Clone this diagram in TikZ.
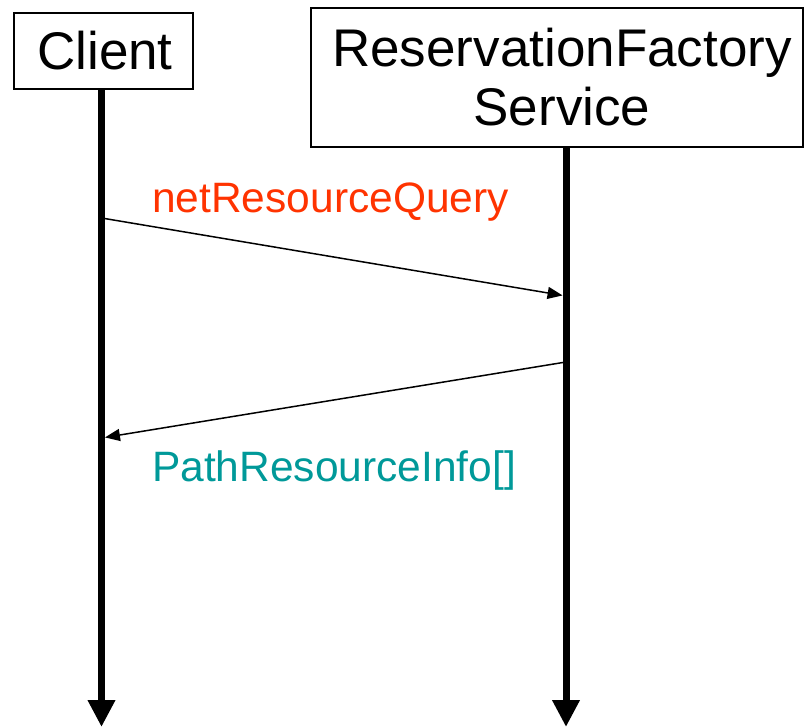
\documentclass[tikz,border=0pt]{standalone}
\usepackage{fontspec}
\setmainfont{Liberation Sans}
\usetikzlibrary{arrows.meta}
\definecolor{callred}{RGB}{255,51,0}
\definecolor{replyteal}{RGB}{0,153,153}
\tikzset{
  actorbox/.style={draw=black, line width=1.5pt, fill=white, inner sep=0pt},
  actorname/.style={inner sep=0pt, font=\fontsize{53}{59}\selectfont, align=center},
  lifeline/.style={line width=7pt, -{Triangle[length=27pt,width=26pt]}},
  msg/.style={line width=1.5pt, -{Triangle[length=15pt,width=12pt]}, shorten >=3.5pt},
  msglabel/.style={font=\fontsize{42.5}{48}\selectfont, anchor=west, inner sep=0pt}
}
\begin{document}
\begin{tikzpicture}[x=1pt,y=-1pt]
  \useasboundingbox (0,0) rectangle (805,727);
  % participant boxes and their names
  \node[actorbox, minimum width=179pt, minimum height=76pt] (client) at (103.5,51) {};
  \node[actorname] (clientName) at (105,51) {Client};
  \node[actorbox, minimum width=492pt, minimum height=139pt] (service) at (557,77.5) {};
  \node[actorname] (serviceName) at (562,77.5) {ReservationFactory\\Service};
  % lifeline ends
  \coordinate (clientEnd) at (101.5,727);
  \coordinate (serviceEnd) at (566,727);
  \draw[lifeline] (client.south -| clientEnd) -- (clientEnd);
  \draw[lifeline] (service.south -| serviceEnd) -- (serviceEnd);
  % message anchor points on the lifelines
  \coordinate (callFrom) at (101.5,218);
  \coordinate (callTo) at (566,296);
  \coordinate (replyFrom) at (566,362);
  \coordinate (replyTo) at (101.5,438);
  \draw[msg] (callFrom) -- (callTo);
  \draw[msg] (replyFrom) -- (replyTo);
  % message labels
  \node[msglabel, text=callred] (callLabel) at (152,202) {netResourceQuery};
  \node[msglabel, text=replyteal] (replyLabel) at (152,471) {PathResourceInfo[]};
\end{tikzpicture}
\end{document}
